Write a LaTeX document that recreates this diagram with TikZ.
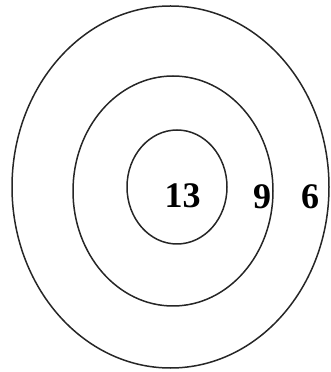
\documentclass[tikz,border=0pt]{standalone}
\usepackage{fontspec}
\setmainfont{Liberation Serif}
\usepackage{tikz}

\begin{document}
\begin{tikzpicture}[x=1pt,y=1pt,
  ring/.style={draw,line width=1.5pt,black!85},
  num/.style={font=\fontsize{36}{36}\selectfont\bfseries,inner sep=0pt}
]
\useasboundingbox (0,0) rectangle (331,372);
\draw[ring] (170.5,185) ellipse [x radius=158.5,y radius=181];
\draw[ring] (173,181) ellipse [x radius=100,y radius=115];
\draw[ring] (177,185) ellipse [x radius=50,y radius=57];
\node[num] (inner) at (182.5,176.5) {13};
\node[num] (middle) at (262,175) {9};
\node[num] (outer) at (310,175) {6};
\end{tikzpicture}
\end{document}
